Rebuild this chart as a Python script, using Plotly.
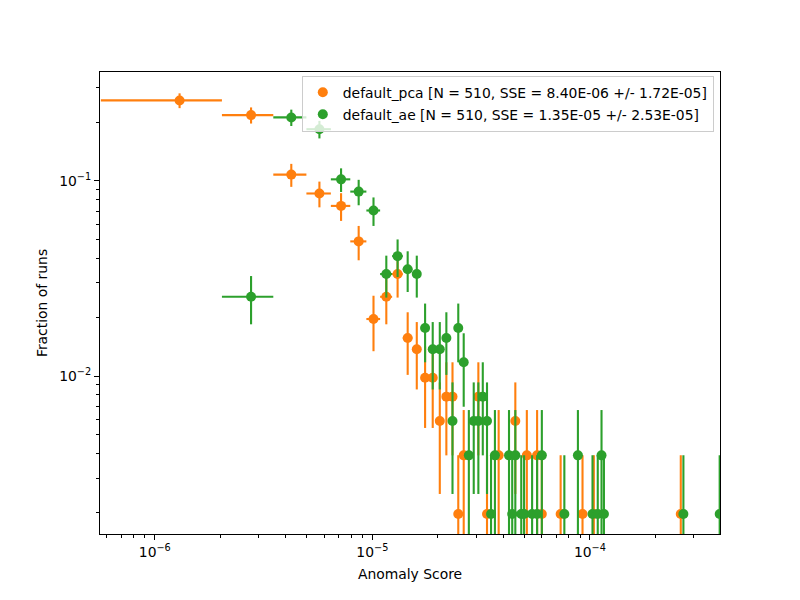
import math
import plotly.graph_objects as go

# ---------------- data ----------------
N_RUNS = 510
BIN_HALF_WIDTH = 0.735e-6   # half of the histogram bin width

# bin centres (in units of 1e-6) and counts per bin
pca_score_e6 = [1.30, 2.77, 4.24, 5.71, 7.18, 8.65, 10.12, 11.59, 13.06, 14.53,
                16.00, 17.47, 18.94, 20.41, 21.88, 23.35, 24.82, 26.29, 30.70, 33.64,
                38.05, 45.40, 51.28, 57.16, 60.10, 73.33, 92.44, 104.20, 261.49]
pca_counts = [132, 111, 55, 44, 38, 25, 10, 13, 17, 8,
              7, 5, 5, 3, 4, 4, 1, 2, 4, 1,
              2, 3, 2, 2, 1, 1, 1, 1, 1]

ae_score_e6 = [2.77, 4.24, 5.71, 7.18, 8.65, 10.12, 11.59, 13.06, 14.53, 16.00,
               17.47, 18.94, 20.41, 21.88, 23.35, 24.82, 26.29, 27.76, 29.23, 30.70,
               32.17, 33.64, 35.11, 36.58, 42.46, 43.93, 45.40, 48.34, 49.81, 54.22,
               57.16, 60.10, 76.27, 88.03, 102.73, 108.61, 113.02, 115.96, 268.84, 394.66]
ae_counts = [13, 108, 94, 52, 45, 36, 17, 21, 18, 17,
             9, 7, 7, 8, 3, 9, 6, 2, 3, 3,
             4, 3, 1, 2, 2, 1, 2, 1, 1, 1,
             1, 2, 1, 2, 1, 1, 2, 1, 1, 1]

pca_label = "default_pca [N = 510, SSE = 8.40E-06 +/- 1.72E-05]"
ae_label = "default_ae [N = 510, SSE = 1.35E-05 +/- 2.53E-05]"

x_tick_vals = [1e-6, 1e-5, 1e-4]
x_tick_text = ["10<sup>\u22126</sup>", "10<sup>\u22125</sup>", "10<sup>\u22124</sup>"]
y_tick_vals = [1e-2, 1e-1]
y_tick_text = ["10<sup>\u22122</sup>", "10<sup>\u22121</sup>"]

X_MIN, X_MAX = 5.6e-7, 3.96e-4
Y_MIN, Y_MAX = 1.55e-3, 0.362

ORANGE = "#ff7f0e"
GREEN = "#2ca02c"
FONT = "DejaVu Sans"
FS = 13.9


def series(scores_e6, counts):
    x = [s * 1e-6 for s in scores_e6]
    y = [c / N_RUNS for c in counts]
    ey = [math.sqrt(c) / N_RUNS for c in counts]
    ex = [BIN_HALF_WIDTH] * len(x)
    return x, y, ex, ey


def minor_vals(lo, hi):
    vals = []
    for e in range(int(math.floor(math.log10(lo))) - 1, int(math.ceil(math.log10(hi))) + 1):
        for m in range(2, 10):
            v = m * 10 ** e
            if lo <= v <= hi:
                vals.append(v)
    return vals


fig = go.Figure()
for scores, counts, color, name, grp in [
    (pca_score_e6, pca_counts, ORANGE, pca_label, "a"),
    (ae_score_e6, ae_counts, GREEN, ae_label, "b"),
]:
    x, y, ex, ey = series(scores, counts)
    fig.add_trace(go.Scatter(
        x=x, y=y, mode="markers", name=name, legendgroup=grp,
        marker=dict(color=color, size=10, line=dict(width=0)),
        error_x=dict(type="data", array=ex, symmetric=True, color=color,
                     thickness=2.1, width=0),
        error_y=dict(type="data", array=ey, symmetric=True, color=color,
                     thickness=2.1, width=0),
    ))

axis_common = dict(
    type="log", showgrid=False, zeroline=False,
    showline=True, mirror=True, linecolor="black", linewidth=1.1,
    ticks="outside", ticklen=5, tickwidth=1.1, tickcolor="black",
    tickfont=dict(family=FONT, size=FS, color="black"),
    tickmode="array",
)

# page body has an 8px margin, so the figure is 792x592 and margins are trimmed
fig.update_layout(
    width=792, height=592, autosize=False,
    margin=dict(l=92, r=80, t=64, b=66),
    paper_bgcolor="white", plot_bgcolor="white",
    font=dict(family=FONT, size=FS, color="black"),
    showlegend=True,
    legend=dict(
        x=0.99, y=0.992, xanchor="right", yanchor="top",
        bgcolor="rgba(255,255,255,0.8)", bordercolor="#cccccc", borderwidth=1,
        font=dict(family=FONT, size=FS, color="black"),
        tracegroupgap=1,
    ),
    xaxis=dict(
        **axis_common,
        range=[math.log10(X_MIN), math.log10(X_MAX)],
        tickvals=x_tick_vals, ticktext=x_tick_text,
        minor=dict(tickmode="array", tickvals=minor_vals(X_MIN, X_MAX),
                   ticks="outside", ticklen=3, tickwidth=0.8, tickcolor="black"),
        title=dict(text="Anomaly Score", font=dict(family=FONT, size=FS), standoff=10),
    ),
    yaxis=dict(
        **axis_common,
        range=[math.log10(Y_MIN), math.log10(Y_MAX)],
        tickvals=y_tick_vals, ticktext=y_tick_text,
        minor=dict(tickmode="array", tickvals=minor_vals(Y_MIN, Y_MAX),
                   ticks="outside", ticklen=3, tickwidth=0.8, tickcolor="black"),
        title=dict(text="Fraction of runs", font=dict(family=FONT, size=FS), standoff=8),
    ),
)

fig.write_html("out.html")
